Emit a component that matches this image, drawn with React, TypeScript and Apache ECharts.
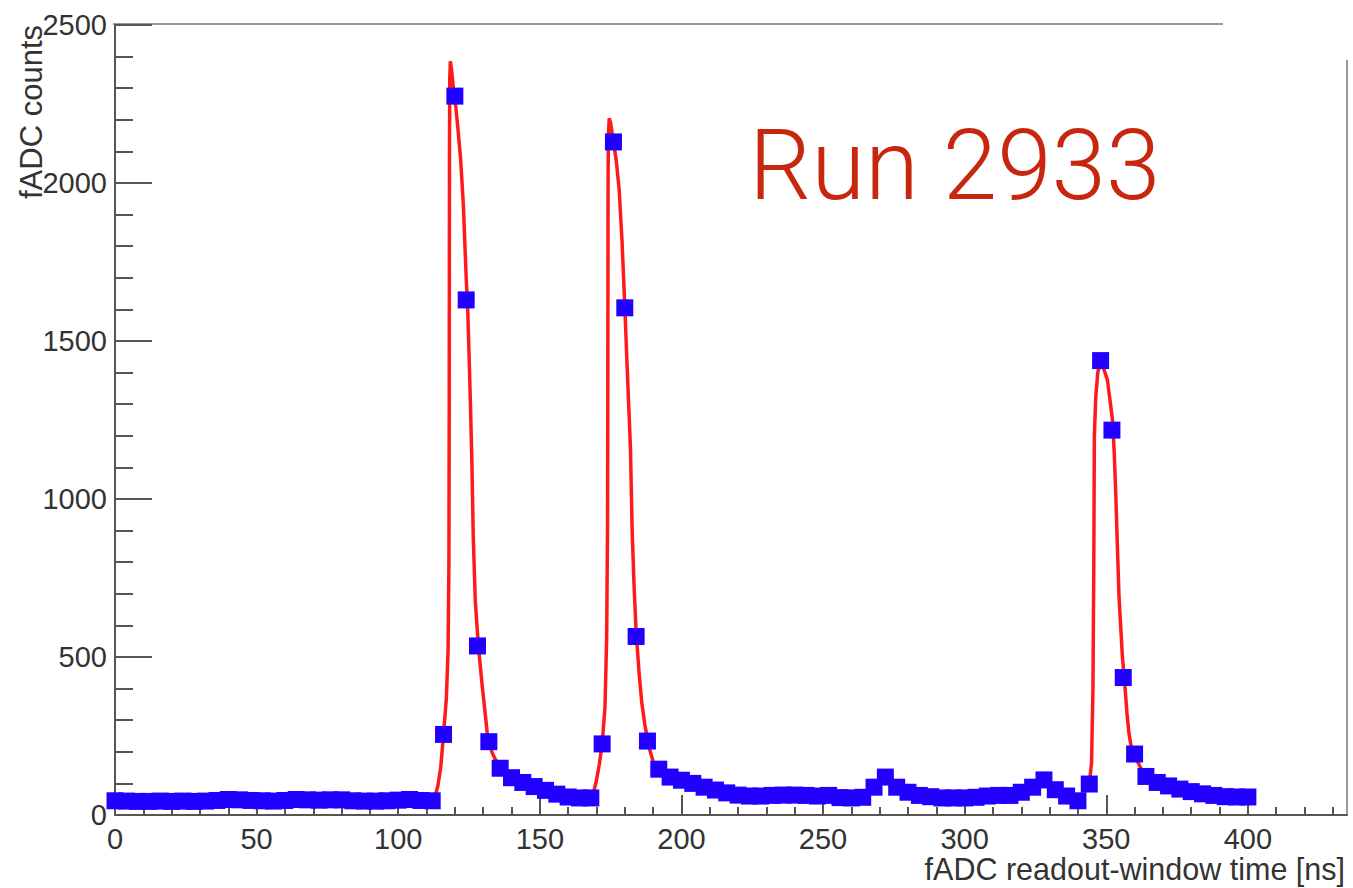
import React, { useEffect, useRef } from 'react';
import * as echarts from 'echarts';

// fADC sample times [ns]
const sampleTimes = [
  0, 4, 8, 12, 16, 20, 24, 28, 32, 36, 40, 44, 48, 52, 56, 60, 64, 68, 72, 76,
  80, 84, 88, 92, 96, 100, 104, 108, 112, 116, 120, 124, 128, 132, 136, 140, 144, 148, 152, 156,
  160, 164, 168, 172, 176, 180, 184, 188, 192, 196, 200, 204, 208, 212, 216, 220, 224, 228, 232, 236,
  240, 244, 248, 252, 256, 260, 264, 268, 272, 276, 280, 284, 288, 292, 296, 300, 304, 308, 312, 316,
  320, 324, 328, 332, 336, 340, 344, 348, 352, 356, 360, 364, 368, 372, 376, 380, 384, 388, 392, 396,
  400,
];

// fADC counts per sample
const sampleCounts = [
  45, 44, 43, 43, 44, 43, 44, 43, 44, 46, 49, 48, 46, 45, 44, 46, 49, 48, 47, 48,
  48, 45, 44, 44, 45, 47, 49, 46, 45, 255, 2275, 1630, 535, 232, 148, 118, 103, 90, 78, 66,
  57, 54, 54, 225, 2130, 1605, 565, 234, 145, 120, 110, 100, 88, 79, 70, 63, 60, 60, 62, 63,
  63, 62, 60, 62, 55, 54, 56, 88, 120, 88, 72, 62, 58, 54, 54, 54, 56, 60, 62, 62,
  72, 88, 111, 80, 60, 45, 98, 1438, 1218, 435, 193, 122, 103, 92, 82, 74, 67, 62, 58, 57,
  57,
];

// fitted pulse shapes [time, counts]
const fitPeak1 = [
  [112, 45], [113, 58], [114, 92], [115, 150], [116, 255], [117, 370], [117.6, 520], [117.9, 800],
  [118.0, 1250], [118.05, 1700], [118.1, 2100], [118.2, 2330], [118.4, 2385], [118.8, 2360],
  [119.5, 2300], [120, 2270], [121, 2180], [122, 2080], [123, 1930], [124, 1700], [124.5, 1610],
  [125, 1460], [125.5, 1300], [126, 1120], [126.5, 880], [127.2, 680], [128.3, 535], [129.7, 405],
  [131.4, 262], [132, 232], [133.2, 196], [135, 163], [136, 150],
];

const fitPeak2 = [
  [168, 54], [169, 72], [170, 110], [171, 160], [172, 225], [173, 340], [173.6, 560], [173.9, 900],
  [174.0, 1300], [174.05, 1700], [174.1, 2000], [174.2, 2150], [174.5, 2205], [175, 2190],
  [176, 2130], [177, 2070], [178, 1980], [179, 1820], [180, 1610], [181, 1380], [182, 1160],
  [182.6, 900], [183.3, 720], [184, 580], [185, 455], [186, 355], [187, 290], [188, 240], [189, 200],
  [190, 170], [191, 155], [192, 145],
];

const fitPeak3 = [
  [344, 98], [344.8, 165], [345.3, 400], [345.6, 800], [345.8, 1200], [346.3, 1324], [347, 1400],
  [348, 1438], [349, 1415], [350.4, 1377], [351.5, 1300], [352.2, 1250], [352.8, 1150],
  [353.4, 1005], [354, 830], [354.5, 690], [355.2, 580], [355.7, 500], [356.4, 430], [357.3, 323],
  [358, 260], [359, 206], [360, 190], [361, 170], [362, 152], [363, 135], [364, 122],
];

const xMajorTicks = [0, 50, 100, 150, 200, 250, 300, 350, 400];
const xMinorTicks = [
  0, 10, 20, 30, 40, 50, 60, 70, 80, 90, 100, 110, 120, 130, 140, 150, 160, 170, 180, 190, 200,
  210, 220, 230, 240, 250, 260, 270, 280, 290, 300, 310, 320, 330, 340, 350, 360, 370, 380, 390,
  400, 410, 420, 430,
];

const xTitle = 'fADC readout-window time [ns]';
const yTitle = 'fADC counts';
const runLabel = 'Run 2933';

const AXIS_COLOR = '#555';
const TEXT_COLOR = '#333';
const FONT = 'Liberation Sans, Arial, Helvetica, sans-serif';

export default function App() {
  const ref = useRef<HTMLDivElement>(null);

  useEffect(() => {
    if (!ref.current) return;
    const chart = echarts.init(ref.current, undefined, { renderer: 'svg' });
    const fitStyle = { color: '#ff1a1a', width: 3.5 };
    const makeFit = (data: number[][]) => ({
      type: 'line',
      data,
      showSymbol: false,
      symbol: 'none',
      smooth: false,
      lineStyle: fitStyle,
      z: 2,
      silent: true,
    });
    const plain = (v: number) => String(v);
    chart.setOption({
      animation: false,
      backgroundColor: '#ffffff',
      grid: { left: 115, right: 6, top: 25, bottom: 73, containLabel: false },
      xAxis: [
        {
          type: 'value',
          min: 0,
          max: 435,
          position: 'bottom',
          axisLine: { show: true, onZero: false, lineStyle: { color: AXIS_COLOR, width: 2 } },
          axisTick: {
            show: true,
            inside: true,
            length: 20,
            customValues: xMajorTicks,
            lineStyle: { color: AXIS_COLOR, width: 2 },
          },
          axisLabel: {
            show: true,
            customValues: xMajorTicks,
            formatter: plain,
            fontSize: 29,
            color: TEXT_COLOR,
            fontFamily: FONT,
            margin: 9,
          },
          splitLine: { show: false },
        },
        {
          type: 'value',
          min: 0,
          max: 435,
          position: 'bottom',
          axisLine: { show: false, onZero: false },
          axisTick: {
            show: true,
            inside: true,
            length: 8,
            customValues: xMinorTicks,
            lineStyle: { color: AXIS_COLOR, width: 2 },
          },
          axisLabel: { show: false },
          splitLine: { show: false },
        },
      ],
      yAxis: {
        type: 'value',
        min: 0,
        max: 2500,
        interval: 500,
        axisLine: { show: true, onZero: false, lineStyle: { color: AXIS_COLOR, width: 2 } },
        axisTick: { show: true, inside: true, length: 37, lineStyle: { color: AXIS_COLOR, width: 2 } },
        minorTick: { show: true, splitNumber: 5, length: 18, lineStyle: { color: AXIS_COLOR, width: 2 } },
        axisLabel: { fontSize: 29, color: TEXT_COLOR, fontFamily: FONT, margin: 8, formatter: plain },
        splitLine: { show: false },
      },
      series: [
        makeFit(fitPeak1),
        makeFit(fitPeak2),
        makeFit(fitPeak3),
        {
          type: 'scatter',
          data: sampleTimes.map((t, i) => [t, sampleCounts[i]]),
          symbol: 'rect',
          symbolSize: 17,
          itemStyle: { color: '#2200ff', opacity: 1 },
          z: 3,
          silent: true,
        },
      ],
      graphic: [
        {
          type: 'line',
          shape: { x1: 113, y1: 24, x2: 1223, y2: 24 },
          style: { stroke: '#9a9a9a', lineWidth: 2 },
          silent: true,
        },
        {
          type: 'line',
          shape: { x1: 1347, y1: 60, x2: 1347, y2: 815 },
          style: { stroke: '#9a9a9a', lineWidth: 2 },
          silent: true,
        },
        {
          type: 'text',
          x: 31,
          y: 25,
          rotation: Math.PI / 2,
          style: {
            text: yTitle,
            fontSize: 31,
            fontFamily: FONT,
            fill: TEXT_COLOR,
            align: 'right',
            verticalAlign: 'middle',
            textAlign: 'right',
            textVerticalAlign: 'middle',
          },
          silent: true,
        },
        {
          type: 'text',
          right: 8,
          top: 853,
          style: { text: xTitle, fontSize: 30.5, fontFamily: FONT, fill: TEXT_COLOR },
          silent: true,
        },
        {
          type: 'text',
          left: 749,
          top: 116,
          style: {
            text: runLabel,
            fontSize: 98,
            fontFamily: 'Roboto, Liberation Sans, sans-serif',
            fontWeight: 300,
            fill: '#c8260f',
          },
          silent: true,
        },
      ],
    });
    return () => chart.dispose();
  }, []);

  return (
    <div
      ref={ref}
      style={{ position: 'absolute', left: 0, top: 0, width: 1353, height: 888, background: '#fff' }}
    />
  );
}
